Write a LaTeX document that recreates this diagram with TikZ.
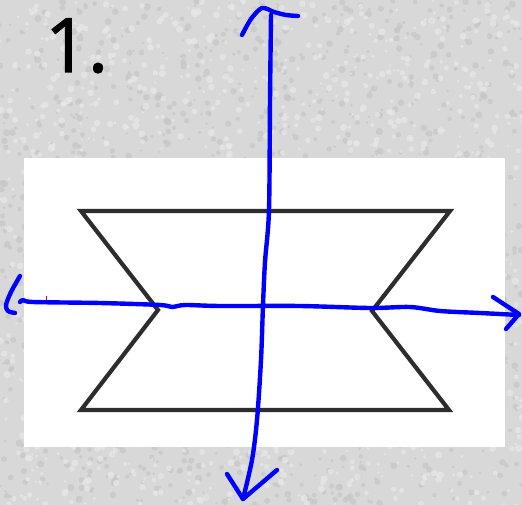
\documentclass[tikz,border=0pt]{standalone}
\usepackage{fontspec}
\newfontfamily\numfont[FakeBold=1.6]{Open Sans}
\definecolor{stone}{RGB}{216,216,216}
\definecolor{stonedark}{RGB}{198,198,198}
\definecolor{stonelight}{RGB}{232,232,232}
\definecolor{shapeink}{RGB}{45,45,45}
\definecolor{pen}{RGB}{0,0,255}
\tikzset{
  penline/.style={draw=pen,line width=4.4pt,line cap=round,line join=round},
  outline/.style={draw=shapeink,line width=4.2pt,line join=miter}
}
\begin{document}
\begin{tikzpicture}[x=1pt,y=-1pt]
\useasboundingbox (0,0) rectangle (522,505);
% granite-like background
\fill[stone] (0,0) rectangle (522,505);
\pgfmathsetseed{7}
\foreach \i in {1,...,1400}{
  \pgfmathsetmacro{\px}{rnd*522}
  \pgfmathsetmacro{\py}{rnd*505}
  \pgfmathsetmacro{\pr}{1.2+rnd*2.4}
  \fill[stonedark,opacity=0.7] (\px,\py) circle[radius=\pr];
}
\foreach \i in {1,...,1400}{
  \pgfmathsetmacro{\px}{rnd*522}
  \pgfmathsetmacro{\py}{rnd*505}
  \pgfmathsetmacro{\pr}{1.2+rnd*2.4}
  \fill[stonelight,opacity=0.7] (\px,\py) circle[radius=\pr];
}
% label
\node[anchor=base west,inner sep=0pt,font=\numfont\fontsize{75}{75}\selectfont] (num) at (45,72) {1.};
% white panel
\fill[white] (24,158) rectangle (505,447);
% bowtie shape
\draw[outline] (81,211) -- (450,211) -- (372,311) -- (449,410) -- (81,410) -- (158,310) -- cycle;
% red tick
\draw[red,line width=1pt] (46,296) -- (46,300);
% vertical axis
\draw[penline] plot[smooth] coordinates {(271,15) (270,100) (269,210) (265,262) (263,305) (261,360) (257,420) (252,460) (243,499)};
\draw[penline] plot[smooth] coordinates {(242,35) (251,19) (262,8) (274,12) (286,15) (298,16)};
\draw[penline] (227,474) -- (243,499) -- (277,470);
% horizontal axis
\draw[penline] plot[smooth] coordinates {(20,276) (11,292) (6,305) (8,311) (15,313)};
\draw[penline] plot[smooth] coordinates {(20,302) (23,300) (33,302) (100,303) (160,305) (172,307) (185,305) (220,306) (300,306) (370,308) (410,307) (440,311) (480,313) (519,315)};
\draw[penline] (493,297) -- (519,314) -- (506,329);
\end{tikzpicture}
\end{document}
